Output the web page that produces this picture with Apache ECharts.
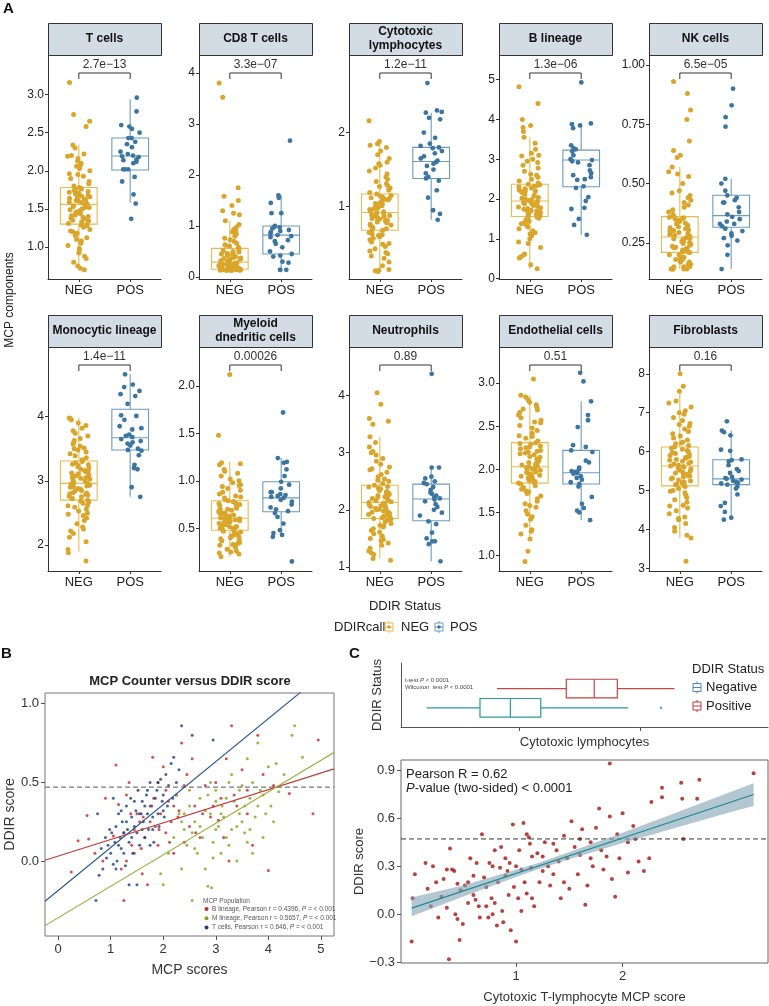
<!DOCTYPE html>
<html><head><meta charset="utf-8">
<script src="https://cdn.jsdelivr.net/npm/echarts@6/dist/echarts.min.js"></script>
<style>html,body{margin:0;padding:0;background:#fff}#c{width:769px;height:1006px}</style>
</head><body><div id="c"></div><script>
const FONT = '"Liberation Sans", Arial, Helvetica, sans-serif';

// ---------- Panel A data ----------
const PANEL_TITLES = ['T cells','CD8 T cells','Cytotoxic\nlymphocytes','B lineage','NK cells','Monocytic lineage','Myeloid\ndnedritic cells','Neutrophils','Endothelial cells','Fibroblasts'];
const P_LABELS = ['2.7e\u221213','3.3e\u221207','1.2e\u221211','1.3e\u221206','6.5e\u221205','1.4e\u221211','0.00026','0.89','0.51','0.16'];
const GROUPS = ['NEG','POS'];
const Y_TICKS = [[1.0,1.5,2.0,2.5,3.0],[0,1,2,3,4],[1,2],[0,1,2,3,4,5],[0.25,0.5,0.75,1.0],[2,3,4],[0.5,1.0,1.5,2.0],[1,2,3,4],[1.0,1.5,2.0,2.5,3.0],[3,4,5,6,7,8]];
const Y_DEC = [1,0,0,0,2,0,1,0,1,0];
const Y_RANGE = [[0.58,3.52],[-0.04,4.35],[0.02,3.05],[-0.01,5.62],[0.098,1.042],[1.595,5.085],[0.05,2.41],[0.93,4.85],[0.82,3.42],[2.93,8.69]];

// box stats [lowerWhisker, Q1, median, Q3, upperWhisker]
const BOX_NEG = [[0.72,1.30,1.56,1.78,2.34],[0.13,0.15,0.29,0.56,1.10],[0.12,0.68,0.92,1.17,1.88],[0.25,1.56,1.95,2.37,3.55],[0.14,0.21,0.275,0.361,0.57],[1.90,2.70,2.96,3.31,3.98],[0.20,0.48,0.606,0.79,1.20],[1.15,1.85,2.13,2.43,3.28],[1.19,1.84,2.03,2.31,2.86],[3.78,5.12,5.63,6.12,7.55]];
const BOX_POS = [[1.58,2.01,2.195,2.43,2.94],[0.13,0.45,0.82,1.00,1.60],[0.82,1.38,1.61,1.80,2.27],[1.10,2.31,2.98,3.23,3.88],[0.14,0.316,0.365,0.451,0.52],[2.75,3.48,3.67,4.115,4.66],[0.42,0.675,0.82,0.99,1.24],[1.10,1.81,2.19,2.45,2.74],[1.41,1.83,1.96,2.22,2.79],[4.25,5.15,5.30,5.79,6.54]];

const NEG_T = [0.70,0.72,0.75,0.80,0.85,0.88,0.92,0.95,0.98,1.02,1.05,1.08,1.10,1.12,1.15,1.18,1.20,1.23,1.26,1.28,1.30,1.31,1.33,1.34,1.35,1.37,1.38,1.40,1.41,1.42,1.44,1.45,1.46,1.48,1.49,1.50,1.52,1.53,1.54,1.55,1.57,1.58,1.59,1.60,1.62,1.63,1.64,1.65,1.66,1.68,1.69,1.70,1.71,1.72,1.73,1.74,1.75,1.76,1.77,1.78,1.80,1.83,1.86,1.90,1.93,1.96,2.00,2.03,2.06,2.10,2.13,2.16,2.19,2.22,2.30,2.34,2.58,2.65,2.74,3.16,1.47,1.61,1.39,1.52,1.67,1.29,1.21,1.95,2.08,2.20];
const POS_T = [2.96,2.78,2.60,2.58,2.55,2.50,2.43,2.43,2.38,2.35,2.31,2.25,2.22,2.20,2.19,2.18,2.15,2.14,2.12,2.10,2.02,2.02,2.02,1.92,1.86,1.69,1.57,1.37];
const NEG_CD8 = [0.13,0.13,0.13,0.13,0.13,0.13,0.13,0.13,0.14,0.14,0.14,0.14,0.14,0.15,0.15,0.15,0.15,0.15,0.15,0.15,0.16,0.17,0.17,0.18,0.18,0.19,0.20,0.20,0.21,0.22,0.22,0.23,0.24,0.25,0.26,0.27,0.28,0.29,0.29,0.30,0.31,0.32,0.33,0.34,0.35,0.36,0.37,0.38,0.40,0.41,0.42,0.44,0.45,0.46,0.48,0.49,0.50,0.52,0.54,0.56,0.58,0.60,0.63,0.66,0.70,0.73,0.76,0.80,0.84,0.88,0.93,0.98,1.03,1.10,1.22,1.25,1.30,1.40,1.50,1.58,1.75,3.52,3.80,0.14,0.16,0.19,0.24,0.35,0.62,0.90];
const POS_CD8 = [2.67,1.60,1.55,1.45,1.25,1.25,1.00,0.98,0.97,0.95,0.92,0.90,0.88,0.85,0.82,0.80,0.78,0.72,0.70,0.65,0.58,0.50,0.45,0.42,0.40,0.30,0.28,0.14,0.14,0.14];
const NEG_CYTO = [0.12,0.13,0.15,0.20,0.25,0.30,0.33,0.36,0.40,0.43,0.46,0.49,0.52,0.55,0.57,0.59,0.61,0.63,0.65,0.67,0.68,0.70,0.71,0.72,0.74,0.75,0.76,0.78,0.79,0.80,0.81,0.83,0.84,0.85,0.86,0.88,0.89,0.90,0.91,0.92,0.93,0.94,0.96,0.97,0.98,0.99,1.00,1.02,1.03,1.04,1.05,1.07,1.08,1.09,1.10,1.12,1.13,1.14,1.15,1.17,1.19,1.22,1.25,1.28,1.31,1.34,1.37,1.40,1.44,1.48,1.52,1.56,1.60,1.65,1.70,1.75,1.80,1.85,1.88,2.16,0.14,0.38,0.62,0.87,1.01,1.11,1.27,1.58,1.83,0.50];
const POS_CYTO = [2.67,2.30,2.28,2.27,2.20,2.18,2.00,1.93,1.85,1.82,1.80,1.79,1.75,1.72,1.68,1.65,1.62,1.60,1.58,1.55,1.50,1.45,1.40,1.38,1.35,1.22,1.12,0.95,0.90,0.82];
const NEG_B = [0.25,0.35,0.52,0.55,0.62,0.78,0.88,0.92,1.00,1.08,1.15,1.20,1.25,1.30,1.35,1.40,1.44,1.48,1.52,1.55,1.56,1.58,1.60,1.62,1.64,1.66,1.68,1.70,1.72,1.74,1.76,1.78,1.80,1.82,1.84,1.86,1.88,1.90,1.92,1.94,1.96,1.98,2.00,2.02,2.04,2.07,2.10,2.12,2.15,2.17,2.20,2.22,2.24,2.26,2.28,2.30,2.32,2.34,2.36,2.37,2.40,2.45,2.50,2.55,2.62,2.70,2.78,2.85,2.92,3.00,3.08,3.15,3.25,3.40,3.55,3.70,3.80,3.85,4.00,4.40,4.82,0.60,1.12,1.38,1.70,1.93,2.18,2.60,2.95,3.10];
const POS_B = [4.93,3.90,3.88,3.85,3.78,3.35,3.28,3.25,3.20,3.00,2.98,2.95,2.92,2.85,2.72,2.65,2.55,2.50,2.48,2.32,2.28,2.05,1.95,1.78,1.75,1.50,1.35,1.10,2.60,3.10];
const NEG_NK = [0.14,0.14,0.14,0.14,0.14,0.14,0.15,0.15,0.16,0.16,0.17,0.17,0.18,0.18,0.19,0.19,0.20,0.20,0.21,0.21,0.212,0.216,0.22,0.224,0.228,0.232,0.236,0.24,0.244,0.248,0.252,0.256,0.26,0.264,0.268,0.272,0.275,0.278,0.282,0.286,0.29,0.294,0.298,0.302,0.306,0.31,0.314,0.318,0.322,0.326,0.33,0.334,0.338,0.342,0.346,0.35,0.353,0.356,0.358,0.36,0.37,0.38,0.39,0.40,0.41,0.42,0.43,0.45,0.47,0.50,0.53,0.55,0.57,0.61,0.62,0.64,0.68,0.77,0.81,0.88,0.93,0.15,0.18,0.23,0.27,0.30,0.34,0.44,0.46,0.54];
const POS_NK = [0.90,0.83,0.78,0.74,0.52,0.50,0.47,0.45,0.44,0.43,0.42,0.42,0.40,0.38,0.37,0.36,0.35,0.34,0.33,0.32,0.31,0.30,0.29,0.28,0.27,0.26,0.24,0.20,0.14,0.33];
const NEG_MONO = [1.75,1.88,1.93,2.05,2.12,2.18,2.22,2.28,2.33,2.38,2.42,2.46,2.50,2.53,2.56,2.59,2.62,2.65,2.67,2.69,2.70,2.72,2.73,2.75,2.76,2.78,2.79,2.81,2.82,2.84,2.85,2.87,2.88,2.90,2.91,2.93,2.94,2.95,2.96,2.97,2.99,3.00,3.02,3.03,3.05,3.06,3.08,3.09,3.11,3.12,3.14,3.16,3.18,3.20,3.22,3.24,3.26,3.28,3.30,3.31,3.33,3.36,3.39,3.42,3.45,3.48,3.51,3.54,3.57,3.60,3.63,3.66,3.70,3.74,3.78,3.82,3.86,3.90,3.95,3.98,2.25,2.48,2.61,2.80,2.92,3.04,3.15,3.25,3.50,3.97];
const POS_MONO = [4.66,4.50,4.46,4.40,4.35,4.32,4.20,4.02,4.01,3.95,3.85,3.82,3.80,3.72,3.68,3.65,3.62,3.60,3.58,3.55,3.50,3.48,3.47,3.40,3.25,3.20,3.18,2.90,2.75,3.70];
const NEG_MYEL = [0.20,0.23,0.25,0.26,0.28,0.30,0.32,0.34,0.35,0.37,0.38,0.39,0.40,0.41,0.42,0.43,0.44,0.45,0.46,0.47,0.48,0.49,0.50,0.50,0.51,0.52,0.53,0.54,0.54,0.55,0.56,0.57,0.57,0.58,0.59,0.60,0.60,0.61,0.61,0.62,0.63,0.64,0.65,0.66,0.66,0.67,0.68,0.69,0.70,0.71,0.72,0.73,0.74,0.75,0.75,0.76,0.77,0.78,0.78,0.79,0.80,0.82,0.84,0.86,0.88,0.90,0.92,0.94,0.96,0.98,1.00,1.02,1.05,1.08,1.10,1.12,1.17,1.19,1.48,2.12,0.24,0.33,0.44,0.52,0.58,0.64,0.70,0.83,0.95,1.18];
const POS_MYEL = [1.72,1.24,1.20,1.19,1.12,1.05,0.99,0.96,0.92,0.88,0.88,0.86,0.84,0.83,0.82,0.80,0.78,0.75,0.72,0.70,0.68,0.66,0.62,0.55,0.48,0.45,0.43,0.41,0.15,0.85];
const NEG_NEUT = [1.12,1.15,1.22,1.28,1.33,1.38,1.42,1.46,1.50,1.54,1.58,1.61,1.64,1.67,1.70,1.73,1.76,1.79,1.82,1.84,1.85,1.86,1.88,1.89,1.91,1.92,1.94,1.95,1.97,1.98,2.00,2.01,2.03,2.04,2.06,2.07,2.09,2.10,2.12,2.13,2.14,2.16,2.17,2.19,2.20,2.22,2.23,2.25,2.26,2.28,2.29,2.31,2.32,2.34,2.35,2.37,2.38,2.40,2.41,2.43,2.46,2.50,2.54,2.58,2.62,2.66,2.70,2.75,2.80,2.85,2.90,2.96,3.02,3.10,3.18,3.28,3.50,3.60,3.85,4.05,1.25,1.48,1.72,1.96,2.08,2.27,2.52,2.72,3.00,3.55];
const POS_NEUT = [4.38,2.74,2.74,2.58,2.55,2.50,2.47,2.45,2.40,2.35,2.30,2.25,2.22,2.20,2.18,2.15,2.10,2.05,2.00,1.95,1.90,1.80,1.75,1.60,1.50,1.45,1.45,1.40,1.10,2.28];
const NEG_ENDO = [0.93,1.05,1.19,1.25,1.30,1.35,1.42,1.48,1.52,1.56,1.60,1.63,1.66,1.69,1.72,1.75,1.77,1.79,1.81,1.83,1.84,1.85,1.86,1.87,1.89,1.90,1.91,1.92,1.93,1.95,1.96,1.97,1.98,1.99,2.00,2.01,2.02,2.03,2.04,2.05,2.06,2.07,2.08,2.10,2.11,2.12,2.14,2.15,2.17,2.18,2.19,2.21,2.22,2.24,2.25,2.26,2.27,2.29,2.30,2.31,2.33,2.36,2.39,2.42,2.45,2.48,2.51,2.54,2.57,2.60,2.63,2.66,2.69,2.72,2.75,2.78,2.81,2.84,2.86,3.05,1.28,1.45,1.58,1.74,1.94,2.09,2.20,2.38,2.55,2.70];
const POS_ENDO = [3.12,3.02,2.79,2.63,2.57,2.49,2.28,2.26,2.22,2.20,2.10,2.08,2.02,2.00,1.98,1.97,1.96,1.95,1.92,1.90,1.88,1.85,1.83,1.80,1.68,1.60,1.55,1.52,1.50,1.41];
const NEG_FIB = [3.18,3.78,3.85,3.95,4.05,4.15,4.25,4.32,4.40,4.48,4.55,4.62,4.70,4.76,4.82,4.88,4.94,5.00,5.05,5.10,5.12,5.15,5.17,5.20,5.22,5.25,5.27,5.30,5.32,5.35,5.37,5.40,5.42,5.45,5.47,5.50,5.52,5.55,5.57,5.60,5.63,5.65,5.68,5.70,5.73,5.75,5.78,5.80,5.83,5.85,5.88,5.90,5.93,5.95,5.98,6.00,6.03,6.06,6.09,6.12,6.16,6.20,6.25,6.30,6.35,6.40,6.46,6.52,6.58,6.65,6.72,6.80,6.88,6.96,7.05,7.15,7.25,7.55,7.68,8.00,4.28,4.60,4.98,5.38,5.62,5.86,6.22,6.70,7.00,7.30];
const POS_FIB = [6.78,6.54,6.50,6.42,6.05,6.02,5.80,5.78,5.75,5.65,5.55,5.50,5.45,5.35,5.32,5.30,5.28,5.25,5.22,5.20,5.18,5.15,5.10,5.05,4.90,4.68,4.60,4.45,4.30,4.25];
const NEG_VALUES = [NEG_T,NEG_CD8,NEG_CYTO,NEG_B,NEG_NK,NEG_MONO,NEG_MYEL,NEG_NEUT,NEG_ENDO,NEG_FIB];
const POS_VALUES = [POS_T,POS_CD8,POS_CYTO,POS_B,POS_NK,POS_MONO,POS_MYEL,POS_NEUT,POS_ENDO,POS_FIB];

// ---------- Panel B data ----------
const B_NAMES = ['B lineage','M lineage','T cells'];
const B_R = ['0.4396','0.5657','0.646'];
const B_RED = [[0.25,-0.07],[0.38,0.13],[0.55,0.29],[0.58,0.14],[0.7,0.05],[0.85,0.0],[0.9,0.4],[1.1,0.61],[1.2,-0.05],[1.25,-0.25],[1.3,0.42],[1.35,0.5],[1.4,0.1],[1.45,0.2],[1.5,0.3],[1.55,0.25],[1.6,-0.08],[1.65,0.15],[1.7,-0.15],[1.75,0.35],[1.8,0.66],[1.85,0.22],[1.9,0.1],[1.95,0.3],[2.0,0.6],[2.05,0.18],[2.1,0.38],[2.15,0.25],[2.2,0.05],[2.25,0.42],[2.3,0.32],[2.35,0.75],[2.4,0.12],[2.45,0.55],[2.5,0.22],[2.55,0.65],[2.6,0.35],[2.7,0.15],[2.8,0.48],[2.9,0.28],[3.0,0.5],[3.1,0.4],[3.2,0.65],[3.25,0.0],[3.3,0.86],[3.4,0.35],[3.5,0.58],[3.6,0.45],[3.7,0.1],[3.8,0.8],[3.9,0.55],[4.0,-0.06],[4.1,0.48],[4.4,0.43],[4.85,0.3],[4.95,0.77],[1.45,0.05],[1.75,0.25],[2.05,0.45],[1.25,0.18],[1.15,0.36],[1.62,0.28],[1.92,0.2],[2.28,0.28],[2.62,0.18],[2.95,0.35],[3.35,0.42],[1.05,0.16],[1.38,0.3],[1.82,0.4],[2.12,0.12],[2.75,0.3],[3.05,0.26],[3.6,0.3],[1.58,0.08],[2.4,0.48],[1.3,0.0],[1.9,0.5],[2.2,0.35],[3.15,0.15]];
const B_OLIVE = [[1.95,-0.08],[2.0,-0.15],[2.1,0.05],[2.2,0.15],[2.3,0.3],[2.35,-0.05],[2.4,0.2],[2.45,0.1],[2.5,0.35],[2.55,-0.25],[2.6,0.25],[2.65,0.05],[2.7,0.4],[2.75,0.15],[2.8,-0.05],[2.85,-0.16],[2.9,0.3],[2.92,-0.17],[2.95,0.12],[3.0,0.45],[3.05,0.22],[3.1,0.05],[3.12,0.35],[3.15,0.28],[3.2,0.15],[3.25,0.5],[3.3,0.2],[3.35,0.38],[3.4,0.0],[3.45,0.3],[3.5,0.48],[3.55,0.18],[3.6,0.65],[3.65,0.4],[3.7,0.05],[3.75,0.28],[3.8,0.75],[3.85,0.45],[3.9,0.15],[3.95,0.3],[4.0,0.6],[4.05,0.35],[4.15,0.62],[4.2,0.44],[4.3,0.55],[4.45,0.8],[4.5,0.86],[4.65,0.66],[2.25,0.42],[2.6,0.08],[2.8,0.32],[3.0,0.2],[3.2,0.4],[3.4,0.22],[3.6,0.12],[3.8,0.35],[2.5,0.45],[2.9,0.5],[3.3,0.55],[3.7,0.5],[2.4,0.3],[2.7,0.22],[2.85,0.42],[3.1,0.3],[3.45,0.45],[3.9,0.42],[2.55,0.18],[3.25,0.1],[3.55,0.35],[2.95,0.02],[3.65,0.2],[4.1,0.25],[2.35,0.25],[3.0,0.38],[3.5,0.25]];
const B_BLUE = [[0.72,-0.25],[0.78,-0.09],[0.82,0.08],[0.85,-0.05],[0.9,0.15],[0.92,0.02],[0.95,0.1],[1.0,0.05],[1.02,0.18],[1.05,-0.02],[1.08,0.12],[1.1,0.22],[1.12,0.0],[1.15,0.3],[1.18,0.15],[1.2,0.08],[1.22,0.25],[1.25,0.18],[1.28,-0.03],[1.3,0.35],[1.32,0.2],[1.35,0.12],[1.38,0.4],[1.4,0.28],[1.42,0.05],[1.45,0.22],[1.48,0.32],[1.5,0.18],[1.52,0.45],[1.55,0.1],[1.58,0.3],[1.6,0.38],[1.62,0.25],[1.65,0.15],[1.68,0.42],[1.7,0.3],[1.72,0.2],[1.75,0.5],[1.78,0.35],[1.8,0.28],[1.82,0.12],[1.85,0.4],[1.88,0.45],[1.9,0.3],[1.92,0.22],[1.95,0.52],[1.98,0.38],[2.0,0.42],[2.02,0.28],[2.05,0.55],[2.08,0.35],[2.1,0.48],[2.15,0.62],[2.18,0.4],[2.2,0.66],[2.25,0.5],[2.3,0.58],[2.35,0.86],[2.55,0.8],[2.95,0.77],[1.35,-0.15],[1.5,-0.15],[1.05,0.4],[0.75,0.3],[1.15,0.1],[1.25,0.05],[1.4,0.15],[1.55,0.3],[1.65,0.35],[1.7,0.45],[1.45,0.38],[1.6,0.2],[1.3,0.25],[1.8,0.2],[2.0,0.32],[1.9,0.5],[1.2,0.32],[1.1,-0.05],[0.98,0.2],[1.75,0.1]];
const B_INTERCEPT = [0.032,-0.36,-0.187];
const B_SLOPE = [0.1055,0.20,0.273];
const DDIR_CUTOFF = 0.47;

// ---------- Panel C data ----------
const C_BOX_NEG = [0.24,0.68,0.93,1.18,1.90];
const C_BOX_POS = [0.82,1.39,1.62,1.81,2.28];
const C_OUTLIER_NEG = [2.17];
const C_POINTS = [[0.02,-0.17],[0.03,0.1],[0.05,0.25],[0.15,0.32],[0.17,0.16],[0.2,0.05],[0.22,0.3],[0.25,0.2],[0.27,-0.02],[0.3,0.11],[0.32,0.22],[0.35,0.04],[0.37,-0.28],[0.38,0.41],[0.4,0.28],[0.42,0.27],[0.43,0.0],[0.45,-0.03],[0.47,-0.16],[0.48,0.15],[0.5,-0.06],[0.52,0.18],[0.55,0.07],[0.55,0.2],[0.57,0.35],[0.6,0.24],[0.62,0.09],[0.63,0.32],[0.65,0.05],[0.66,-0.02],[0.68,0.5],[0.7,0.23],[0.72,0.17],[0.72,0.05],[0.74,-0.02],[0.75,0.32],[0.77,0.1],[0.78,0.3],[0.8,0.4],[0.8,0.07],[0.82,-0.07],[0.83,0.2],[0.85,0.29],[0.86,0.42],[0.87,0.02],[0.88,-0.05],[0.9,0.24],[0.92,0.27],[0.93,0.12],[0.94,0.32],[0.95,-0.1],[0.97,0.56],[0.98,0.17],[1.0,0.3],[1.0,-0.17],[1.02,0.1],[1.03,0.4],[1.05,0.28],[1.07,0.57],[1.08,0.2],[1.1,0.13],[1.12,0.48],[1.13,0.44],[1.14,0.29],[1.15,0.1],[1.17,0.05],[1.2,0.38],[1.22,0.2],[1.25,0.36],[1.27,0.45],[1.3,0.3],[1.32,0.18],[1.35,0.25],[1.38,0.4],[1.4,0.33],[1.42,0.1],[1.45,0.49],[1.48,0.35],[1.5,0.16],[1.52,0.58],[1.55,0.42],[1.58,0.25],[1.6,0.47],[1.62,0.53],[1.65,0.06],[1.67,0.18],[1.7,0.45],[1.72,0.3],[1.75,0.54],[1.78,0.66],[1.8,0.4],[1.82,0.28],[1.85,0.36],[1.88,0.61],[1.9,0.22],[1.93,0.11],[1.95,0.5],[1.97,0.35],[2.0,0.63],[2.05,0.26],[2.1,0.55],[2.12,0.47],[2.2,0.27],[2.27,0.70],[2.37,0.79],[2.37,0.73],[2.56,0.72],[2.57,0.47],[2.55,0.82],[2.70,0.72],[2.72,0.84],[3.23,0.88],[1.88,0.94],[2.05,0.45],[2.15,0.33],[1.15,0.36],[0.9,0.35],[1.25,0.27],[0.6,0.12],[0.78,0.0],[1.05,0.02],[1.45,0.2],[1.7,0.35],[0.45,0.19],[0.35,0.28],[1.1,0.5],[1.6,0.37],[1.35,0.44],[2.25,0.35]];
const C_FIT = [0.034, 0.221];
const C_FIT_X = [0.02, 3.23];
const C_BAND_X = [0.02,0.5,1.0,1.2,1.5,2.0,2.5,3.0,3.23];
const C_BAND_LO = [-0.012,0.110,0.233,0.279,0.344,0.444,0.540,0.635,0.675];
const C_BAND_HI = [0.104,0.180,0.277,0.319,0.388,0.508,0.634,0.759,0.818];

// ---------- colours ----------
const NEG_COLOR = '#d9a62b', POS_COLOR = '#3c76a0';
const NEG_BOX = '#e6bb52', POS_BOX = '#6b9bc0';
const B_COLORS = ['#c0282d','#8e9e1f','#1f3d7c'];
const B_LINE_COLORS = ['#c43a3a','#9aa82e','#2a5590'];

function jit(j, k) { const s = Math.sin((j + 1) * 12.9898 + (k + 1) * 78.233) * 43758.5453; return ((s - Math.floor(s)) - 0.5) * 0.44; }

const grids = [], xAxes = [], yAxes = [], series = [], graphics = [];
const COL_X = [48,199,349,499,649], PW = 113, ROW_TOP = [55,347], PH = 224, STRIP_H = 32;
const axLine = { show: true, onZero: false, lineStyle: { color: '#333', width: 1 } };

function boxRender(stats, color) {
  return function (params, api) {
    const [mn, q1, md, q3, mx] = stats, x = api.value(0), hw = 0.357;
    const a = api.coord([x - hw, q3]), b = api.coord([x + hw, q1]);
    const xm = api.coord([x, md]);
    const yMin = api.coord([x, mn])[1], yMax = api.coord([x, mx])[1];
    const st = { stroke: color, lineWidth: 1.1, fill: null };
    return { type: 'group', children: [
      { type: 'line', shape: { x1: xm[0], y1: a[1], x2: xm[0], y2: yMax }, style: st },
      { type: 'line', shape: { x1: xm[0], y1: b[1], x2: xm[0], y2: yMin }, style: st },
      { type: 'rect', shape: { x: a[0], y: a[1], width: b[0] - a[0], height: b[1] - a[1] }, style: { stroke: color, lineWidth: 1.1, fill: 'rgba(255,255,255,0)' } },
      { type: 'line', shape: { x1: a[0], y1: xm[1], x2: b[0], y2: xm[1] }, style: st }
    ] };
  };
}
function bracketRender(label) {
  return function (params, api) {
    const cs = params.coordSys;
    const x1 = api.coord([1, 0])[0], x2 = api.coord([2, 0])[0], y = cs.y + 18;
    return { type: 'group', children: [
      { type: 'polyline', shape: { points: [[x1, y + 6], [x1, y], [x2, y], [x2, y + 6]] }, style: { stroke: '#333', lineWidth: 1, fill: null } },
      { type: 'text', style: { text: label, x: (x1 + x2) / 2, y: y - 2, align: 'center', verticalAlign: 'bottom', fontSize: 12, fontFamily: FONT, fill: '#333' } }
    ] };
  };
}

for (let i = 0; i < 10; i++) {
  const col = i % 5, row = Math.floor(i / 5);
  const left = COL_X[col], top = ROW_TOP[row];
  grids.push({ left: left, top: top, width: PW, height: PH });
  xAxes.push({ gridIndex: i, type: 'value', min: 0.4, max: 2.6, axisLine: axLine,
    axisTick: { show: true, customValues: [1, 2], length: 3, lineStyle: { color: '#333' } },
    axisLabel: { customValues: [1, 2], formatter: v => GROUPS[Math.round(v) - 1], fontSize: 13, color: '#222', margin: 5, fontFamily: FONT },
    splitLine: { show: false } });
  yAxes.push({ gridIndex: i, type: 'value', min: Y_RANGE[i][0], max: Y_RANGE[i][1], axisLine: axLine,
    axisTick: { show: true, customValues: Y_TICKS[i], length: 3, lineStyle: { color: '#333' } },
    axisLabel: { customValues: Y_TICKS[i], formatter: v => v.toFixed(Y_DEC[i]), fontSize: 12, color: '#222', margin: 4, fontFamily: FONT },
    splitLine: { show: false } });
  series.push({ type: 'custom', xAxisIndex: i, yAxisIndex: i, renderItem: boxRender(BOX_NEG[i], NEG_BOX), data: [[1].concat(BOX_NEG[i])], encode: { x: 0, y: [1, 2, 3, 4, 5] }, z: 2, silent: true });
  series.push({ type: 'custom', xAxisIndex: i, yAxisIndex: i, renderItem: boxRender(BOX_POS[i], POS_BOX), data: [[2].concat(BOX_POS[i])], encode: { x: 0, y: [1, 2, 3, 4, 5] }, z: 2, silent: true });
  series.push({ type: 'scatter', xAxisIndex: i, yAxisIndex: i, data: NEG_VALUES[i].map((v, j) => [1 + jit(j, i), v]), symbolSize: 5, itemStyle: { color: NEG_COLOR, opacity: 1 }, z: 3, silent: true });
  series.push({ type: 'scatter', xAxisIndex: i, yAxisIndex: i, data: POS_VALUES[i].map((v, j) => [2 + jit(j, i + 20), v]), symbolSize: 4.8, itemStyle: { color: POS_COLOR, opacity: 1 }, z: 3, silent: true });
  series.push({ type: 'custom', xAxisIndex: i, yAxisIndex: i, renderItem: bracketRender(P_LABELS[i]), data: [[1.5, Y_RANGE[i][1]]], z: 4, silent: true, clip: false });
  graphics.push({ type: 'rect', left: left, top: top - STRIP_H, shape: { width: PW, height: STRIP_H }, style: { fill: '#d3dbe5', stroke: '#333', lineWidth: 1 }, z: 10 });
  graphics.push({ type: 'text', x: left + PW / 2, y: top - STRIP_H / 2, style: { text: PANEL_TITLES[i], align: 'center', verticalAlign: 'middle', fontSize: 12, fontWeight: 'bold', fontFamily: FONT, fill: '#111', lineHeight: 14 }, z: 11 });
}

// ---------- Panel B ----------
grids.push({ left: 45, top: 693, width: 289, height: 243, show: true, borderColor: '#777', borderWidth: 1, backgroundColor: 'transparent' });
xAxes.push({ gridIndex: 10, type: 'value', min: -0.25, max: 5.25, axisLine: { show: false, onZero: false },
  axisTick: { show: true, customValues: [0, 1, 2, 3, 4, 5], length: 4, lineStyle: { color: '#555' } },
  axisLabel: { customValues: [0, 1, 2, 3, 4, 5], fontSize: 13, color: '#333', margin: 7, fontFamily: FONT },
  name: 'MCP scores', nameLocation: 'middle', nameGap: 27, nameTextStyle: { fontSize: 14, color: '#333', fontFamily: FONT }, splitLine: { show: false } });
yAxes.push({ gridIndex: 10, type: 'value', min: -0.476, max: 1.068, axisLine: { show: false, onZero: false },
  axisTick: { show: true, customValues: [0, 0.5, 1.0], length: 4, lineStyle: { color: '#555' } },
  axisLabel: { customValues: [0, 0.5, 1.0], formatter: v => v.toFixed(1), fontSize: 13, color: '#333', margin: 6, fontFamily: FONT },
  name: 'DDIR score', nameLocation: 'middle', nameGap: 27, nameTextStyle: { fontSize: 14, color: '#333', fontFamily: FONT }, splitLine: { show: false } });
[B_RED, B_OLIVE, B_BLUE].forEach((d, k) => {
  series.push({ type: 'scatter', xAxisIndex: 10, yAxisIndex: 10, data: d, symbolSize: 3, itemStyle: { color: B_COLORS[k] }, z: 3, silent: true });
});
series.push({ type: 'line', xAxisIndex: 10, yAxisIndex: 10, data: [[-0.25, DDIR_CUTOFF], [5.25, DDIR_CUTOFF]], symbol: 'none', lineStyle: { color: '#555', width: 1, type: [5, 3] }, z: 4, silent: true });
[0, 1, 2].forEach(k => {
  const xs = [-0.25, 5.25];
  series.push({ type: 'line', xAxisIndex: 10, yAxisIndex: 10, data: xs.map(x => [x, B_INTERCEPT[k] + B_SLOPE[k] * x]), symbol: 'none', clip: true, lineStyle: { color: B_LINE_COLORS[k], width: 1.1 }, z: 5, silent: true });
});

// ---------- Panel C top ----------
grids.push({ left: 401, top: 663, width: 367, height: 64 });
xAxes.push({ gridIndex: 11, type: 'value', min: 0.03, max: 3.05, axisLine: { show: true, onZero: false, lineStyle: { color: '#555' } },
  axisTick: { show: true, customValues: [1, 2], length: 4, lineStyle: { color: '#555' } }, axisLabel: { show: false },
  name: 'Cytotoxic lymphocytes', nameLocation: 'middle', nameGap: 9, nameTextStyle: { fontSize: 13, color: '#333', fontFamily: FONT, verticalAlign: 'top' }, splitLine: { show: false } });
yAxes.push({ gridIndex: 11, type: 'value', min: 0, max: 3.33, axisLine: { show: true, onZero: false, lineStyle: { color: '#555' } },
  axisTick: { show: false }, axisLabel: { show: false }, splitLine: { show: false },
  name: 'DDIR Status', nameLocation: 'middle', nameGap: 17, nameTextStyle: { fontSize: 13, color: '#333', fontFamily: FONT } });
function hboxRender(stats, color, yv) {
  return function (params, api) {
    const [mn, q1, md, q3, mx] = stats;
    const y = api.coord([md, yv])[1], h = 9.3;
    const X = v => api.coord([v, yv])[0];
    const st = { stroke: color, lineWidth: 1.2, fill: null };
    return { type: 'group', children: [
      { type: 'line', shape: { x1: X(mn), y1: y, x2: X(q1), y2: y }, style: st },
      { type: 'line', shape: { x1: X(q3), y1: y, x2: X(mx), y2: y }, style: st },
      { type: 'rect', shape: { x: X(q1), y: y - h, width: X(q3) - X(q1), height: 2 * h }, style: { stroke: color, lineWidth: 1.2, fill: 'rgba(255,255,255,0)' } },
      { type: 'line', shape: { x1: X(md), y1: y - h, x2: X(md), y2: y + h }, style: st }
    ] };
  };
}
series.push({ type: 'custom', xAxisIndex: 11, yAxisIndex: 11, renderItem: hboxRender(C_BOX_POS, '#c24545', 2), data: [[C_BOX_POS[2], 2]], silent: true });
series.push({ type: 'custom', xAxisIndex: 11, yAxisIndex: 11, renderItem: hboxRender(C_BOX_NEG, '#2b9a9a', 1), data: [[C_BOX_NEG[2], 1]], silent: true });
series.push({ type: 'scatter', xAxisIndex: 11, yAxisIndex: 11, data: C_OUTLIER_NEG.map(v => [v, 1]), symbolSize: 2.5, itemStyle: { color: '#2b9a9a' }, silent: true });

// ---------- Panel C bottom ----------
grids.push({ left: 401, top: 760, width: 367, height: 203, show: true, borderColor: '#666', borderWidth: 1, backgroundColor: 'transparent' });
xAxes.push({ gridIndex: 12, type: 'value', min: -0.08, max: 3.365, axisLine: { show: false, onZero: false },
  axisTick: { show: true, customValues: [1, 2], length: 4, lineStyle: { color: '#555' } },
  axisLabel: { customValues: [1, 2], fontSize: 13, color: '#333', margin: 7, fontFamily: FONT },
  name: 'Cytotoxic T-lymphocyte MCP score', nameLocation: 'middle', nameGap: 28, nameTextStyle: { fontSize: 13, color: '#333', fontFamily: FONT }, splitLine: { show: false } });
yAxes.push({ gridIndex: 12, type: 'value', min: -0.304, max: 0.9625, axisLine: { show: false, onZero: false },
  axisTick: { show: true, customValues: [-0.3, 0, 0.3, 0.6, 0.9], length: 4, lineStyle: { color: '#555' } },
  axisLabel: { customValues: [-0.3, 0, 0.3, 0.6, 0.9], formatter: v => v.toFixed(1).replace('-', '\u2212'), fontSize: 13, color: '#333', margin: 6, fontFamily: FONT },
  name: 'DDIR score', nameLocation: 'middle', nameGap: 34, nameTextStyle: { fontSize: 13, color: '#333', fontFamily: FONT }, splitLine: { show: false } });
series.push({ type: 'scatter', xAxisIndex: 12, yAxisIndex: 12, data: C_POINTS, symbolSize: 4, itemStyle: { color: '#a31414' }, z: 3, silent: true });
series.push({ type: 'line', xAxisIndex: 12, yAxisIndex: 12, data: [[-0.08, DDIR_CUTOFF], [3.365, DDIR_CUTOFF]], symbol: 'none', lineStyle: { color: '#333', width: 1, type: [5, 3] }, z: 4, silent: true });
series.push({ type: 'custom', xAxisIndex: 12, yAxisIndex: 12, z: 5, silent: true,
  data: C_BAND_X.map((x, j) => [x, C_BAND_LO[j], C_BAND_HI[j]]), encode: { x: 0, y: [1, 2] },
  renderItem: function (params, api) {
    if (params.dataIndex !== 0) return null;
    const up = C_BAND_X.map((x, j) => api.coord([x, C_BAND_HI[j]]));
    const lo = C_BAND_X.map((x, j) => api.coord([x, C_BAND_LO[j]])).reverse();
    return { type: 'polygon', shape: { points: up.concat(lo) }, style: { fill: 'rgba(130,165,180,0.62)', stroke: null } };
  } });
series.push({ type: 'line', xAxisIndex: 12, yAxisIndex: 12, data: C_FIT_X.map(x => [x, C_FIT[0] + C_FIT[1] * x]), symbol: 'none', lineStyle: { color: '#1e8a8e', width: 1.1 }, z: 6, silent: true });

// ---------- text / legends ----------
const T = (x, y, text, o) => ({ type: 'text', x: x, y: y, style: Object.assign({ text: text, fontFamily: FONT, fill: '#222', fontSize: 12, verticalAlign: 'middle' }, o || {}) });
graphics.push(T(3, 9, 'A', { fontSize: 15, fontWeight: 'bold', fill: '#111' }));
graphics.push(T(1, 654, 'B', { fontSize: 15, fontWeight: 'bold', fill: '#111' }));
graphics.push(T(349, 654, 'C', { fontSize: 15, fontWeight: 'bold', fill: '#111' }));
graphics.push({ type: 'text', x: 10, y: 300, rotation: Math.PI / 2, style: { text: 'MCP components', fontFamily: FONT, fontSize: 12, fill: '#222', align: 'center', verticalAlign: 'middle' } });
graphics.push(T(405, 606, 'DDIR Status', { fontSize: 13, align: 'center' }));
graphics.push(T(334, 627, 'DDIRcall', { fontSize: 13 }));
function glyph(cx, cy, color, dot) {
  const st = { stroke: color, lineWidth: 1, fill: null };
  const ch = [
    { type: 'line', shape: { x1: cx, y1: cy - 6, x2: cx, y2: cy - 4 }, style: st },
    { type: 'line', shape: { x1: cx, y1: cy + 4, x2: cx, y2: cy + 6 }, style: st },
    { type: 'rect', shape: { x: cx - 4, y: cy - 4, width: 8, height: 8 }, style: { stroke: color, lineWidth: 1, fill: 'rgba(255,255,255,0)' } },
    { type: 'line', shape: { x1: cx - 4, y1: cy, x2: cx + 4, y2: cy }, style: st }
  ];
  if (dot) ch.push({ type: 'circle', shape: { cx: cx, cy: cy, r: 1.8 }, style: { fill: dot } });
  return { type: 'group', children: ch };
}
graphics.push(glyph(389, 627, NEG_BOX, NEG_COLOR));
graphics.push(T(401, 627, 'NEG', { fontSize: 13 }));
graphics.push(glyph(439, 627, POS_BOX, POS_COLOR));
graphics.push(T(450, 627, 'POS', { fontSize: 13 }));

graphics.push(T(190, 681, 'MCP Counter versus DDIR score', { fontSize: 13, fontWeight: 'bold', align: 'center', fill: '#222' }));
graphics.push(T(203, 901, 'MCP Population', { fontSize: 6.5, fill: '#555' }));
[0, 1, 2].forEach(k => {
  const y = 909 + k * 9.3;
  graphics.push({ type: 'circle', shape: { cx: 206.5, cy: y, r: 2 }, style: { fill: B_COLORS[k] } });
  graphics.push({ type: 'text', x: 212, y: y, style: { text: B_NAMES[k] + ', Pearson r = ' + B_R[k] + ', {i|P} = < 0.001', fontFamily: FONT, fontSize: 6.5, fill: '#555', verticalAlign: 'middle', rich: { i: { fontStyle: 'italic', fontSize: 6.5, fill: '#555', fontFamily: FONT } } } });
});

graphics.push({ type: 'text', x: 405, y: 680, style: { text: 't-test {i|P} < 0.0001', fontFamily: FONT, fontSize: 6, fill: '#444', verticalAlign: 'middle', rich: { i: { fontStyle: 'italic', fontSize: 6, fill: '#444', fontFamily: FONT } } } });
graphics.push({ type: 'text', x: 405, y: 687.5, style: { text: 'Wilcoxon  test {i|P} < 0.0001', fontFamily: FONT, fontSize: 6, fill: '#444', verticalAlign: 'middle', rich: { i: { fontStyle: 'italic', fontSize: 6, fill: '#444', fontFamily: FONT } } } });
graphics.push(T(692, 669, 'DDIR Status', { fontSize: 13 }));
graphics.push(glyph(697, 687.5, '#4f86bd', null));
graphics.push(T(706, 687.5, 'Negative', { fontSize: 13 }));
graphics.push(glyph(697, 706, '#c0393b', null));
graphics.push(T(706, 706, 'Positive', { fontSize: 13 }));

graphics.push(T(406, 774, 'Pearson R = 0.62', { fontSize: 13 }));
graphics.push({ type: 'text', x: 406, y: 788.5, style: { text: '{i|P}-value (two-sided) < 0.0001', fontFamily: FONT, fontSize: 13, fill: '#222', verticalAlign: 'middle', rich: { i: { fontStyle: 'italic', fontSize: 13, fill: '#222', fontFamily: FONT } } } });

const chart = echarts.init(document.getElementById('c'), null, { renderer: 'canvas' });
chart.setOption({ animation: false, backgroundColor: '#fff', textStyle: { fontFamily: FONT }, grid: grids, xAxis: xAxes, yAxis: yAxes, series: series, graphic: graphics });
</script></body></html>
